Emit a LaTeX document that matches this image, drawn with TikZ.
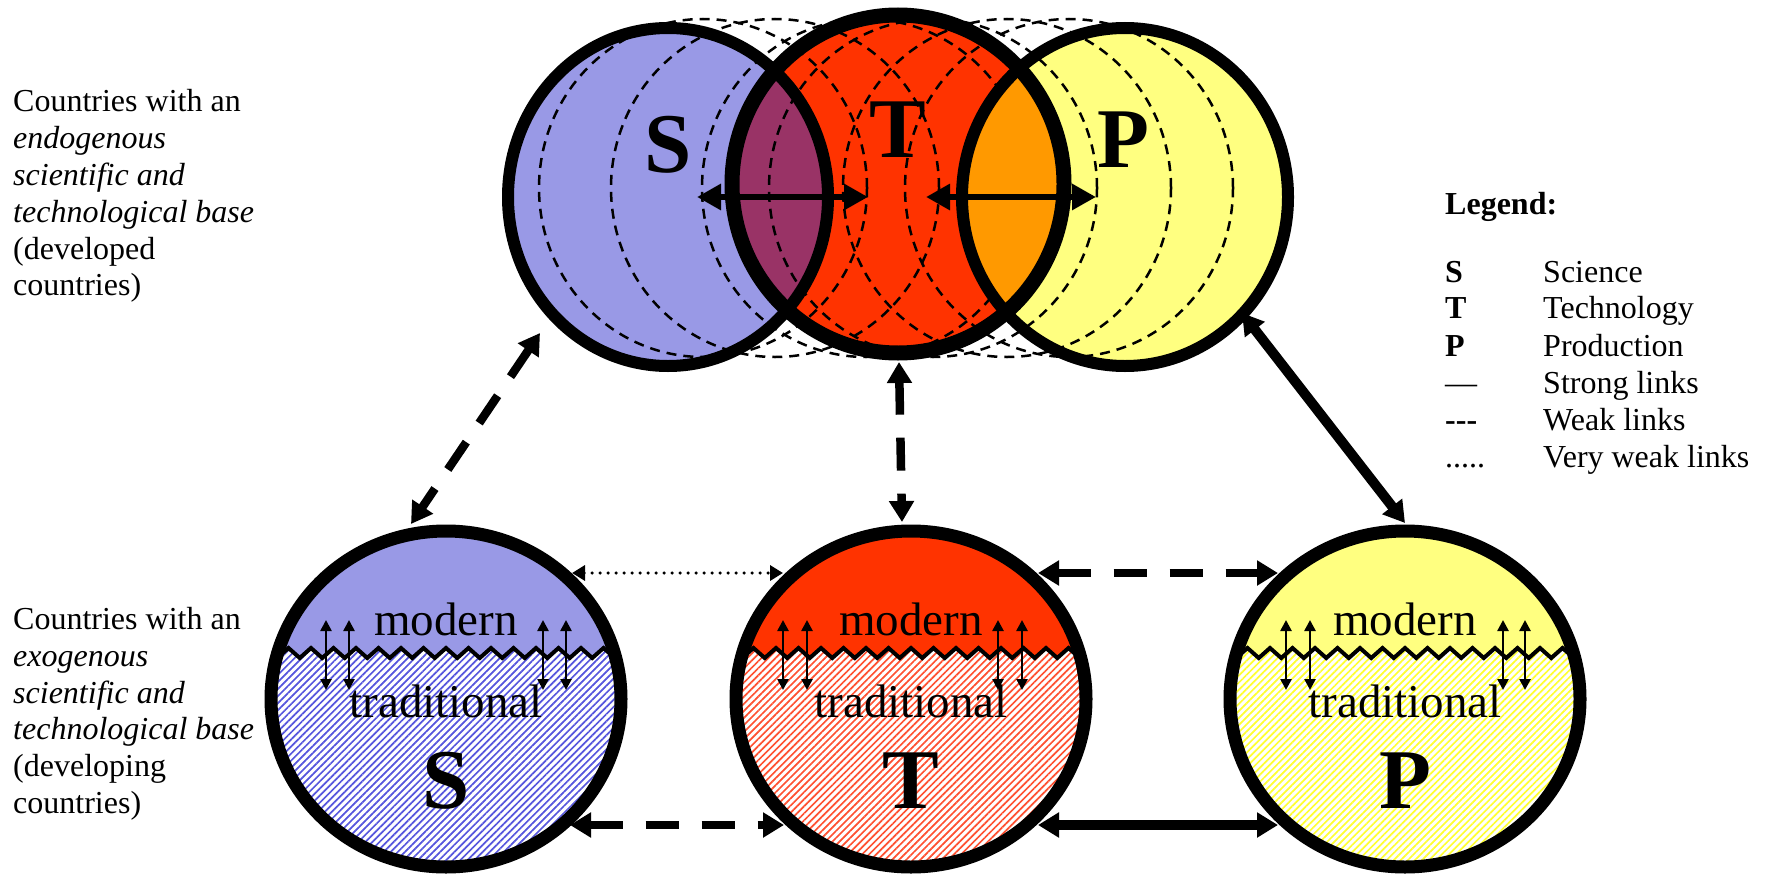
\documentclass[tikz,border=0pt]{standalone}
\usepackage{fontspec}
\setmainfont{Liberation Serif}
\usetikzlibrary{arrows.meta,patterns.meta}
\definecolor{sblue}{HTML}{9999E6}
\definecolor{tred}{HTML}{FF3300}
\definecolor{pyellow}{HTML}{FFFF80}
\definecolor{lpurple}{HTML}{993366}
\definecolor{lorange}{HTML}{FF9900}
\definecolor{hblue}{HTML}{5555DD}
\definecolor{hred}{HTML}{FF5030}
\definecolor{hyellow}{HTML}{FFFF30}
\tikzset{
  txt/.style={font=\fontsize{32}{36.8}\selectfont, inner sep=0pt},
  midtext/.style={font=\fontsize{47}{50}\selectfont, inner sep=0pt, anchor=base},
  bigletter/.style={font=\fontsize{85}{90}\selectfont\bfseries, inner sep=0pt, anchor=base},
  strong/.style={line width=10pt, {Triangle[length=21pt,width=24pt]}-{Triangle[length=21pt,width=24pt]}},
  weak/.style={line width=8.5pt, dash pattern=on 33pt off 23pt, {Triangle[length=21pt,width=24pt]}-{Triangle[length=21pt,width=24pt]}},
  veryweak/.style={line width=3.5pt, line cap=round, dash pattern=on 0pt off 8pt, {Triangle[length=13pt,width=15pt]}-{Triangle[length=13pt,width=15pt]}},
  toparr/.style={line width=6pt, {Triangle[length=24pt,width=25pt]}-{Triangle[length=24pt,width=25pt]}},
  smallarr/.style={line width=2.5pt, {Triangle[length=11pt,width=11pt]}-{Triangle[length=11pt,width=11pt]}},
  dashcirc/.style={line width=2.5pt, dash pattern=on 10pt off 7pt},
}
\newcommand{\lowcircle}[6]{%
  \coordinate (#1) at (#2,699);
  \begin{scope}
    \clip (#1) ellipse [x radius=175pt, y radius=168pt];
    \fill[white] (#2-190,520) rectangle (#2+190,880);
    \fill[pattern={Lines[angle=45,distance=5pt,line width=1.7pt]}, pattern color=#4] (#2-190,520) rectangle (#2+190,880);
    \fill[#3] (#2-180,520) -- plot[samples at={0,...,32}, variable=\x] ({#2-180+\x*11.25},{653-5*cos(180*\x)}) -- (#2+180,520) -- cycle;
    \draw[line width=4pt, line join=miter] plot[samples at={0,...,32}, variable=\x] ({#2-180+\x*11.25},{653-5*cos(180*\x)});
  \end{scope}
  \foreach \d in {#6} \draw[smallarr] (#2+\d,620) -- (#2+\d,690);
  \node[midtext] (#1mod) at (#2,635) {modern};
  \node[midtext] (#1trad) at (#2,717) {traditional};
  \node[bigletter] (#1let) at (#2,808) {#5};
  \draw[line width=13pt] (#1) ellipse [x radius=175pt, y radius=168pt];
}
\begin{document}
\begin{tikzpicture}[x=1pt,y=-1pt]
\useasboundingbox (0,0) rectangle (1766,875);
% ---------- top circles ----------
\coordinate (St) at (668,197);
\coordinate (Tt) at (898,184);
\coordinate (Pt) at (1125,197);
\fill[sblue] (St) ellipse [x radius=160pt, y radius=169pt];
\fill[pyellow] (Pt) ellipse [x radius=163pt, y radius=169pt];
\fill[tred] (Tt) ellipse [x radius=166pt, y radius=169pt];
\begin{scope}
  \clip (St) ellipse [x radius=160pt, y radius=169pt];
  \fill[lpurple] (Tt) ellipse [x radius=166pt, y radius=169pt];
\end{scope}
\foreach \cx in {703,775,866,933,1007,1069}
  \draw[dashcirc] (\cx,188) ellipse [x radius=164pt, y radius=169pt];
\begin{scope}
  \clip (Pt) ellipse [x radius=163pt, y radius=169pt];
  \fill[lorange] (Tt) ellipse [x radius=166pt, y radius=169pt];
\end{scope}
\draw[line width=12pt] (St) ellipse [x radius=160pt, y radius=169pt];
\draw[line width=12pt] (Pt) ellipse [x radius=163pt, y radius=169pt];
\draw[line width=15pt] (Tt) ellipse [x radius=166pt, y radius=169pt];
\node[bigletter] (Slet) at (668,172) {S};
\node[bigletter] (Tlet) at (898,157) {T};
\node[bigletter] (Plet) at (1123,167) {P};
\coordinate (stA) at (697,197);
\coordinate (stB) at (868,197);
\coordinate (tpA) at (926,197);
\coordinate (tpB) at (1096,197);
\draw[toparr] (stA) -- (stB);
\draw[toparr] (tpA) -- (tpB);
% ---------- bottom circles ----------
\lowcircle{Sb}{446}{sblue}{hblue}{S}{-120,-97,97,120}
\lowcircle{Tb}{911}{tred}{hred}{T}{-128,-104,87,111}
\lowcircle{Pb}{1405}{pyellow}{hyellow}{P}{-119,-95,98,120}
% ---------- connectors ----------
\coordinate (c1a) at (540,333);  \coordinate (c1b) at (411,524);
\coordinate (c2a) at (899,362);  \coordinate (c2b) at (902,522);
\coordinate (c3a) at (1242,313); \coordinate (c3b) at (1405,523);
\coordinate (c4a) at (572,573);  \coordinate (c4b) at (783,573);
\coordinate (c5a) at (1038,573); \coordinate (c5b) at (1278,573);
\coordinate (c6a) at (570,825);  \coordinate (c6b) at (784,825);
\coordinate (c7a) at (1038,825); \coordinate (c7b) at (1278,825);
\draw[weak] (c1a) -- (c1b);
\draw[weak] (c2a) -- (c2b);
\draw[strong] (c3a) -- (c3b);
\draw[veryweak] (c4a) -- (c4b);
\draw[weak] (c5a) -- (c5b);
\draw[weak] (c6a) -- (c6b);
\draw[strong] (c7a) -- (c7b);
% ---------- side texts ----------
\node[txt, align=left, anchor=north west] (devtext) at (13,89.5)
  {Countries with an\\\textit{endogenous}\\\textit{scientific and}\\\textit{technological base}\\(developed\\countries)};
\node[txt, align=left, anchor=north west] (lesstext) at (13,607)
  {Countries with an\\\textit{exogenous}\\\textit{scientific and}\\\textit{technological base}\\(developing\\countries)};
% ---------- legend ----------
\node[txt, font=\fontsize{32}{36.8}\selectfont\bfseries, anchor=base west] (leg) at (1445,214) {Legend:};
\node[txt, anchor=base west] (k1) at (1445,282) {\textbf{S}};
\node[txt, anchor=base west] (v1) at (1543,282) {Science};
\node[txt, anchor=base west] (k2) at (1445,318) {\textbf{T}};
\node[txt, anchor=base west] (v2) at (1543,318) {Technology};
\node[txt, anchor=base west] (k3) at (1445,356) {\textbf{P}};
\node[txt, anchor=base west] (v3) at (1543,356) {Production};
\node[txt, anchor=base west] (k4) at (1445,393) {—};
\node[txt, anchor=base west] (v4) at (1543,393) {Strong links};
\node[txt, anchor=base west] (k5) at (1445,430) {\textbf{-{}-{}-}};
\node[txt, anchor=base west] (v5) at (1543,430) {Weak links};
\node[txt, anchor=base west] (k6) at (1445,467) {.....};
\node[txt, anchor=base west] (v6) at (1543,467) {Very weak links};
\end{tikzpicture}
\end{document}
